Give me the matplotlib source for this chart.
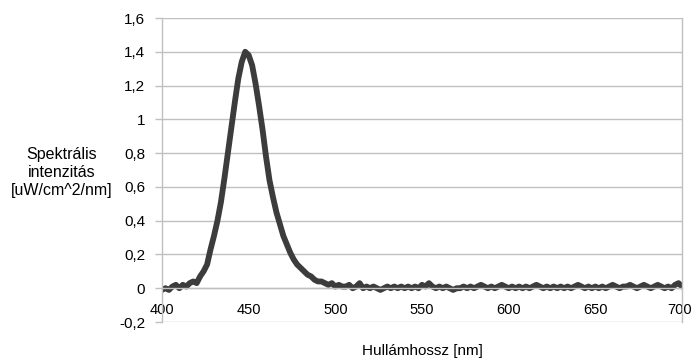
import numpy as np
import matplotlib
matplotlib.use('Agg')
import matplotlib.pyplot as plt
import matplotlib.transforms as mtransforms
from matplotlib.ticker import FuncFormatter, MultipleLocator

plt.rcParams['font.family'] = ['Liberation Sans', 'DejaVu Sans']
plt.rcParams['font.size'] = 11

# wavelength grid [nm], sampled every 2 nm
wavelength = np.arange(400, 701, 2)

# spectral intensity [uW/cm^2/nm]
intensity = [
    -0.01, 0.00, -0.01, 0.01, 0.02, 0.00, 0.02, 0.01, 0.03, 0.04,   # 400-418
    0.03, 0.07, 0.10, 0.14, 0.23, 0.31, 0.40, 0.51, 0.65, 0.80,     # 420-438
    0.95, 1.10, 1.24, 1.34, 1.40, 1.38, 1.32, 1.21, 1.08, 0.94,     # 440-458
    0.78, 0.64, 0.54, 0.45, 0.38, 0.31, 0.26, 0.21, 0.17, 0.14,     # 460-478
    0.12, 0.10, 0.08, 0.07, 0.05, 0.04, 0.04, 0.03, 0.02, 0.03,     # 480-498
    0.01, 0.02, 0.01, 0.01, 0.02, 0.00, 0.01, 0.03, 0.00, 0.01,     # 500-518
    0.00, 0.01, 0.00, -0.01, 0.00, 0.01, 0.00, 0.01, 0.00, 0.01,    # 520-538
    0.00, 0.01, 0.00, 0.01, 0.00, 0.02, 0.01, 0.03, 0.01, 0.00,     # 540-558
    0.01, 0.00, 0.01, 0.00, -0.01, 0.00, 0.00, 0.01, 0.00, 0.01,    # 560-578
    0.00, 0.01, 0.02, 0.01, 0.00, 0.01, 0.00, 0.01, 0.02, 0.01,     # 580-598
    0.00, 0.01, 0.00, 0.01, 0.00, 0.01, 0.00, 0.01, 0.02, 0.01,     # 600-618
    0.00, 0.01, 0.00, 0.01, 0.00, 0.01, 0.00, 0.01, 0.00, 0.01,     # 620-638
    0.02, 0.01, 0.00, 0.01, 0.00, 0.01, 0.00, 0.01, 0.00, 0.01,     # 640-658
    0.02, 0.01, 0.00, 0.01, 0.01, 0.02, 0.01, 0.00, 0.01, 0.02,     # 660-678
    0.01, 0.00, 0.01, 0.02, 0.01, 0.00, 0.01, 0.00, 0.02, 0.03,     # 680-698
    0.01,                                                           # 700
]

xticks = [400, 450, 500, 550, 600, 650, 700]

fig = plt.figure(figsize=(6.93, 3.6), dpi=100)
ax = fig.add_axes([162/693, 1 - 322/360, (682 - 162)/693, (322 - 18)/360])

grid_col = '#c0c0c0'
ax.plot(wavelength, intensity, color='#3c3c3c', lw=4.2,
        solid_joinstyle='round', solid_capstyle='round')

ax.set_xlim(400, 700)
ax.set_ylim(-0.2, 1.6)
ax.set_xticks(xticks)
ax.yaxis.set_major_locator(MultipleLocator(0.2))
ax.yaxis.set_major_formatter(FuncFormatter(lambda v, p: ('%g' % round(v, 1)).replace('.', ',')))
ax.grid(axis='y', color=grid_col, lw=1)
ax.set_axisbelow(True)

ax.spines['top'].set_visible(False)
ax.spines['bottom'].set_position(('data', 0))
for s in ['left', 'right', 'bottom']:
    ax.spines[s].set_color(grid_col)
    ax.spines[s].set_linewidth(1)

ax.tick_params(axis='x', length=0, pad=11, labelsize=10.5)
ax.tick_params(axis='y', length=5, width=1, color=grid_col, pad=7)

# last x label sits right at the figure edge, nudge it in a bit
last = ax.get_xticklabels()[-1]
last.set_transform(last.get_transform() + mtransforms.ScaledTranslation(-2/100, 0, fig.dpi_scale_trans))

fig.text(62/693, 1 - 172/360, 'Spektrális\nintenzitás\n[uW/cm^2/nm]',
         ha='center', va='center', multialignment='center',
         linespacing=1.25, fontsize=11.5)
fig.text(422/693, 1 - 351/360, 'Hullámhossz [nm]', ha='center', va='center')

fig.savefig('out.png', dpi=100)
